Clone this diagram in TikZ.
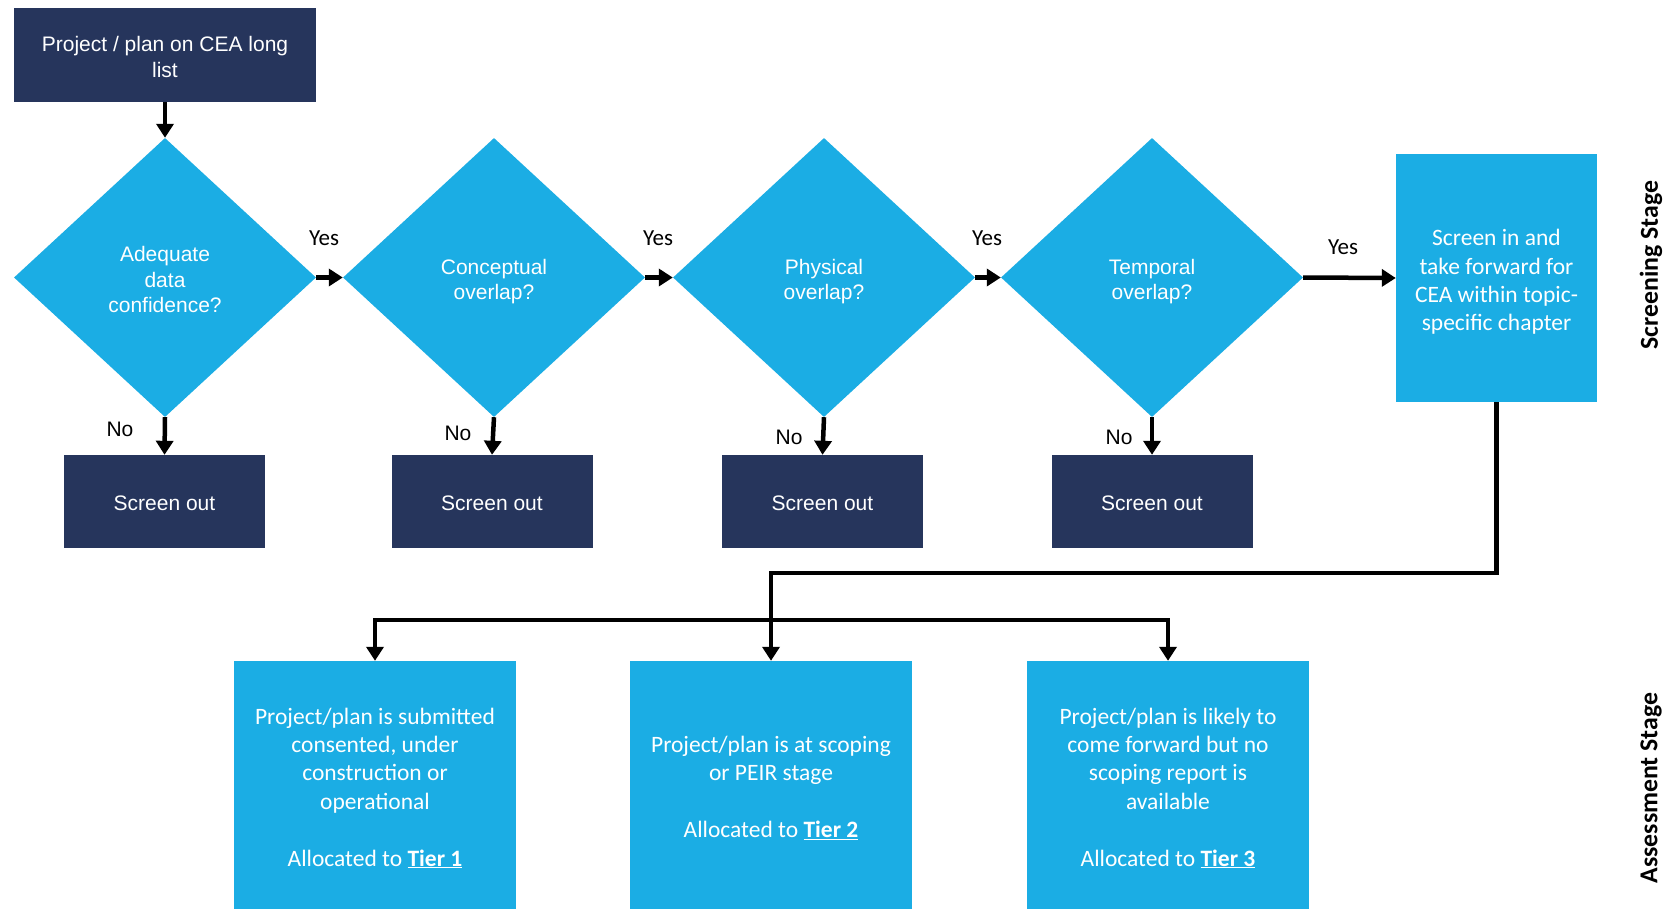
\documentclass[tikz,border=0pt]{standalone}
\usepackage{fontspec}
\setmainfont{Carlito}
\newfontfamily\arialf{Liberation Sans}
\usetikzlibrary{shapes.geometric,arrows.meta}
\definecolor{navy}{RGB}{38,53,92}
\definecolor{sky}{RGB}{27,173,228}
\begin{document}
\begin{tikzpicture}[x=1pt,y=-1pt,
  darkbox/.style={rectangle, fill=navy, inner sep=0pt},
  dia/.style={diamond, fill=sky, minimum width=302pt, minimum height=279pt, inner sep=0pt},
  lightbox/.style={rectangle, fill=sky, inner sep=0pt},
  outbox/.style={darkbox, minimum width=201pt, minimum height=93pt},
  tierbox/.style={lightbox, minimum width=282pt, minimum height=252pt},
  atext/.style={text=white, font=\arialf\fontsize{21}{25.5}\selectfont, align=center, inner sep=0pt},
  ctext/.style={text=white, font=\fontsize{23.5}{28.4}\selectfont, align=center, inner sep=0pt},
  arr/.style={line width=4.5pt, line join=miter, -{Triangle[width=17pt,length=14pt]}},
  yesl/.style={font=\fontsize{23}{27}\selectfont, text=black, inner sep=0pt},
  nol/.style={font=\arialf\fontsize{21}{25}\selectfont, text=black, inner sep=0pt},
  stagel/.style={rotate=90, font=\bfseries\fontsize{25.8}{30}\selectfont, text=black, inner sep=0pt}]
\useasboundingbox (0,0) rectangle (1667,908);
\clip (0,0) rectangle (1667,908);
\fill[white] (0,0) rectangle (1667,908);

% shapes
\node[darkbox, minimum width=302pt, minimum height=94pt] (top) at (165,55) {};
\node[dia] (d1) at (165,277.5) {};
\node[dia] (d2) at (494,277.5) {};
\node[dia] (d3) at (824,277.5) {};
\node[dia] (d4) at (1152,277.5) {};
\node[lightbox, minimum width=201pt, minimum height=248pt] (scr) at (1496.5,278) {};
\node[outbox] (o1) at (164.5,501.5) {};
\node[outbox] (o2) at (492,501.5) {};
\node[outbox] (o3) at (822.5,501.5) {};
\node[outbox] (o4) at (1152,501.5) {};
\node[tierbox] (t1) at (375,787) {};
\node[tierbox] (t2) at (771,787) {};
\node[tierbox] (t3) at (1168,787) {};

% texts
\node[atext] (topt) at (165,57) {Project / plan on CEA long\\list};
\node[atext] (d1t) at (165,279.5) {Adequate\\data\\confidence?};
\node[atext] (d2t) at (494,281.5) {Conceptual\\overlap?};
\node[atext] (d3t) at (824,281.5) {Physical\\overlap?};
\node[atext] (d4t) at (1152,281.5) {Temporal\\overlap?};
\node[ctext] (scrt) at (1496.5,282) {Screen in and\\take forward for\\CEA within topic-\\specific chapter};
\node[atext] (o1t) at (164.5,503.5) {Screen out};
\node[atext] (o2t) at (492,503.5) {Screen out};
\node[atext] (o3t) at (822.5,503.5) {Screen out};
\node[atext] (o4t) at (1152,503.5) {Screen out};
\node[ctext] (t1t) at (375,788) {Project/plan is submitted\\consented, under\\construction or\\operational\\[28.4pt]Allocated to \underline{\textbf{Tier 1}}};
\node[ctext] (t2t) at (771,788) {Project/plan is at scoping\\or PEIR stage\\[28.4pt]Allocated to \underline{\textbf{Tier 2}}};
\node[ctext] (t3t) at (1168,788) {Project/plan is likely to\\come forward but no\\scoping report is\\available\\[28.4pt]Allocated to \underline{\textbf{Tier 3}}};

% connectors
\draw[arr] (top.south) -- (d1.north);
\draw[arr] (d1.east) -- (d2.west);
\draw[arr] (d2.east) -- (d3.west);
\draw[arr] (d3.east) -- (d4.west);
\draw[arr] (d4.east) -- (scr.west);
\draw[arr] (d1.south) -- (o1.north);
\draw[arr] (d2.south) -- (o2.north);
\draw[arr] (d3.south) -- (o3.north);
\draw[arr] (d4.south) -- (o4.north);

\coordinate (j1) at (1496.5,573);
\coordinate (j2) at (771,573);
\coordinate (split) at (771,620);
\draw[arr] (scr.south) -- (j1) -- (j2) -- (t2.north);
\draw[arr] (split) -| (t1.north);
\draw[arr] (split) -| (t3.north);

\node[yesl] (y1) at (324,238) {Yes};
\node[yesl] (y2) at (658,238) {Yes};
\node[yesl] (y3) at (987,238) {Yes};
\node[yesl] (y4) at (1343,247) {Yes};
\node[nol] (n1) at (120,429) {No};
\node[nol] (n2) at (458,433) {No};
\node[nol] (n3) at (789,437) {No};
\node[nol] (n4) at (1119,437) {No};

\node[stagel] (s1) at (1651,265) {Screening Stage};
\node[stagel] (s2) at (1651,788) {Assessment Stage};
\end{tikzpicture}
\end{document}
